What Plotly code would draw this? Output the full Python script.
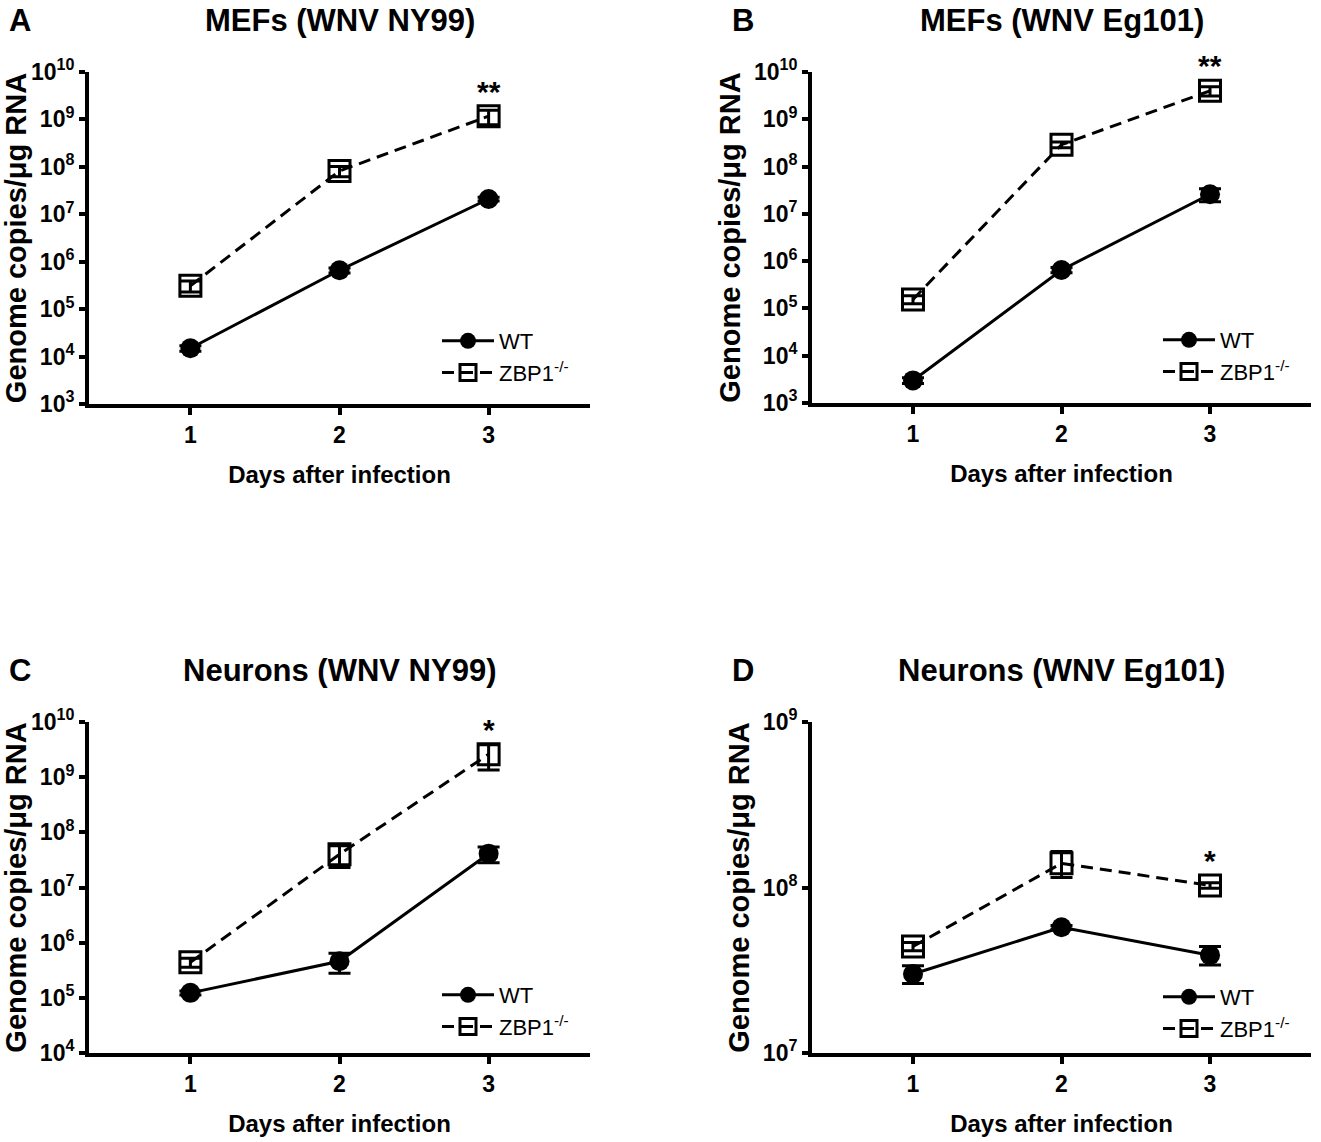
import math
import plotly.graph_objects as go

days = [1, 2, 3]

# A: MEFs (WNV NY99)
wt_a = [1.5e4, 6.6e5, 2.1e7]
wt_a_err = [2e3, 8e4, 2e6]
zbp_a = [3.1e5, 8.2e7, 1.17e9]
zbp_a_err = [8e4, 2e7, 4e8]

# B: MEFs (WNV Eg101)
wt_b = [3.0e3, 6.5e5, 2.6e7]
wt_b_err = [4e2, 8e4, 8e6]
zbp_b = [1.55e5, 2.9e8, 4.0e9]
zbp_b_err = [3e4, 4e7, 9e8]

# C: Neurons (WNV NY99)
wt_c = [1.23e5, 4.6e5, 4.1e7]
wt_c_err = [1e4, 1.8e5, 1.3e7]
zbp_c = [4.4e5, 4.0e7, 2.6e9]
zbp_c_err = [8e4, 1.7e7, 1.25e9]

# D: Neurons (WNV Eg101)
wt_d = [3.0e7, 5.75e7, 3.9e7]
wt_d_err = [3.7e6, 1.5e6, 5e6]
zbp_d = [4.4e7, 1.4e8, 1.03e8]
zbp_d_err = [2.5e6, 2.5e7, 4e6]

titles = ["MEFs (WNV NY99)", "MEFs (WNV Eg101)",
          "Neurons (WNV NY99)", "Neurons (WNV Eg101)"]
letters = ["A", "B", "C", "D"]
stars = ["**", "**", "*", "*"]
y_exp = [(3, 10), (3, 10), (4, 10), (7, 9)]

panels = [
    (wt_a, wt_a_err, zbp_a, zbp_a_err),
    (wt_b, wt_b_err, zbp_b, zbp_b_err),
    (wt_c, wt_c_err, zbp_c, zbp_c_err),
    (wt_d, wt_d_err, zbp_d, zbp_d_err),
]

W, H = 1321, 1142
FONT = "Arial, Liberation Sans, sans-serif"

# plot areas in pixels: (left, right, top, bottom)
boxes = [(89, 590, 72, 404), (812, 1311, 72, 403),
         (89, 590, 722, 1053), (812, 1311, 722, 1053)]
# legend top, measured up from the x axis
legend_up = [84, 84, 79, 77]

fig = go.Figure()
annotations = []

for i, (wt, wt_err, zbp, zbp_err) in enumerate(panels):
    n = i + 1
    xa = "x" if n == 1 else f"x{n}"
    ya = "y" if n == 1 else f"y{n}"
    lg = "legend" if n == 1 else f"legend{n}"

    fig.add_trace(go.Scatter(
        x=days, y=wt, xaxis=xa, yaxis=ya, legend=lg,
        name="WT", mode="lines+markers",
        line=dict(color="black", width=3),
        marker=dict(symbol="circle", size=20, color="black"),
        error_y=dict(type="data", array=wt_err, color="black",
                     thickness=3, width=11),
    ))
    fig.add_trace(go.Scatter(
        x=days, y=zbp, xaxis=xa, yaxis=ya, legend=lg,
        name="ZBP1<sup>-/-</sup>", mode="lines+markers",
        line=dict(color="black", width=3, dash="12px,7px"),
        marker=dict(symbol="square-open", size=21, color="black",
                    line=dict(width=3, color="black")),
        error_y=dict(type="data", array=zbp_err, color="black",
                     thickness=3, width=11),
    ))

    l, r, t, b = boxes[i]
    lo, hi = y_exp[i]
    fig.update_layout({
        ("xaxis" if n == 1 else f"xaxis{n}"): dict(
            domain=[l / W, r / W], anchor=ya, range=[0.32, 3.68],
            automargin=False,
            tickvals=days, ticks="outside", ticklen=7, tickwidth=4,
            tickcolor="black", showline=True, linewidth=4, linecolor="black",
            showgrid=False, zeroline=False,
            tickfont=dict(family=FONT, size=23, color="black", weight="bold"),
            title=dict(text="Days after infection", standoff=21,
                       font=dict(family=FONT, size=24, color="black",
                                 weight="bold")),
        ),
        ("yaxis" if n == 1 else f"yaxis{n}"): dict(
            domain=[1 - b / H, 1 - t / H], anchor=xa, type="log",
            range=[lo, hi], automargin=False,
            tickvals=[10 ** e for e in range(lo, hi + 1)],
            ticktext=[f"10<sup>{e}</sup>" for e in range(lo, hi + 1)],
            ticks="outside", ticklen=6, tickwidth=4, tickcolor="black",
            showline=True, linewidth=4, linecolor="black",
            showgrid=False, zeroline=False,
            tickfont=dict(family=FONT, size=23, color="black", weight="bold"),
            title=dict(text="Genome copies/μg RNA", standoff=6,
                       font=dict(family=FONT, size=29, color="black",
                                 weight="bold")),
        ),
        lg: dict(
            x=(r - 153) / W, xanchor="left",
            y=1 - (b - legend_up[i]) / H, yanchor="top",
            bgcolor="rgba(0,0,0,0)", traceorder="normal",
            font=dict(family=FONT, size=22, color="black"),
            itemwidth=52, tracegroupgap=0,
        ),
    })

    annotations.append(dict(
        text=f"<b>{titles[i]}</b>", xref="paper", yref="paper",
        x=(l + r) / 2 / W, y=1 - (t - 52) / H, showarrow=False,
        xanchor="center", yanchor="middle",
        font=dict(family=FONT, size=31, color="black"),
    ))
    annotations.append(dict(
        text=f"<b>{letters[i]}</b>", xref="paper", yref="paper",
        x=(l - 69) / W, y=1 - (t - 52) / H, showarrow=False,
        xanchor="center", yanchor="middle",
        font=dict(family=FONT, size=31, color="black"),
    ))
    annotations.append(dict(
        text=f"<b>{stars[i]}</b>", xref=xa, yref=ya,
        x=days[-1], y=math.log10(zbp[-1]), yshift=25,
        xanchor="center", yanchor="middle",
        showarrow=False, font=dict(family=FONT, size=30, color="black"),
    ))

fig.update_layout(
    template="none",
    width=W, height=H,
    margin=dict(l=0, r=0, t=0, b=0, autoexpand=False),
    paper_bgcolor="white", plot_bgcolor="white",
    annotations=annotations,
    showlegend=True,
)

fig.write_html("out.html", config={"displayModeBar": False},
               post_script="document.body.style.margin='0px';")
